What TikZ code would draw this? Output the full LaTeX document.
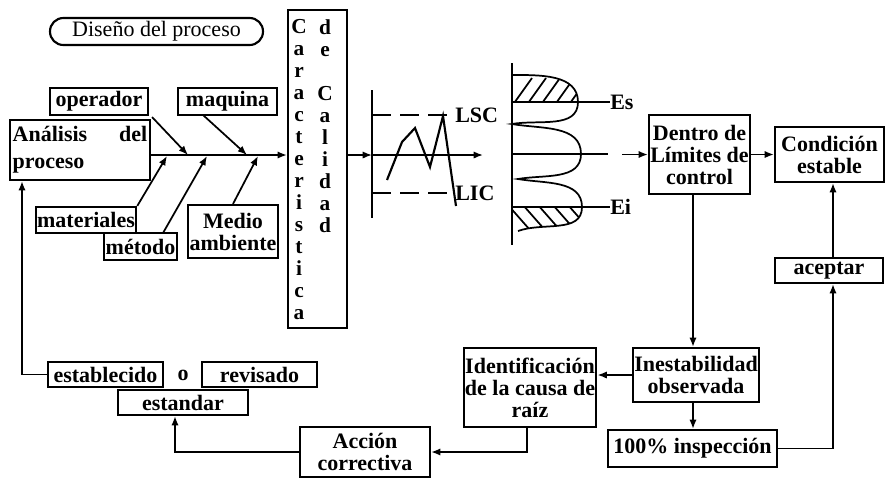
\documentclass[tikz,border=0pt]{standalone}
\usepackage{fontspec}
\setmainfont{Liberation Serif}
\usetikzlibrary{arrows.meta,calc}
\begin{document}
\begin{tikzpicture}[x=0.75pt,y=-0.75pt,
  box/.style={draw,line width=1.6pt,inner sep=1pt,align=center,font=\bfseries\fontsize{16.5}{16.5}\selectfont},
  sz/.style 2 args={minimum width=#1*0.75pt,minimum height=#2*0.75pt},
  ln/.style={line width=1.3pt},
  arr/.style={ln,-{Latex[length=7pt,width=5.5pt]}},
  lbl/.style={font=\bfseries\fontsize{16.5}{16.5}\selectfont,inner sep=0pt},
  col/.style={font=\bfseries\fontsize{16}{16.5}\selectfont,inner sep=0pt,align=center,anchor=north}]
\useasboundingbox (0,0) rectangle (886,480);

% ---------- nodes ----------
\node[draw,line width=1.6pt,rounded corners=10pt,sz={213}{27},inner sep=1pt,font=\fontsize{16.5}{16.5}\selectfont] (dis) at (156.5,31.5) {Diseño del proceso};
\node[box,sz={98}{27}] (oper) at (99,101.5) {operador};
\node[box,sz={99}{27}] (maq) at (227.5,101.5) {maquina};
\node[box,sz={140}{60},inner sep=1.5pt] (ana) at (80,150) {\parbox[c]{101pt}{\fontsize{16.5}{20}\selectfont Análisis\hfill del\\proceso}};
\node[box,sz={98}{26}] (mat) at (86,220) {materiales};
\node[box,sz={69}{27}] (met) at (140.5,246.5) {método};
\node[box,sz={90}{53}] (med) at (233,231.5) {Medio\\ambiente};
\node[box,sz={59}{318}] (car) at (317.5,169) {};
\node[col] (c1) at (299,19) {C\\a\\r\\a\\c\\t\\e\\r\\i\\s\\t\\i\\c\\a};
\node[col] (c2) at (325,19) {d\\e\\\mbox{}\\C\\a\\l\\i\\d\\a\\d};

\node[box,sz={99}{79}] (den) at (699.5,154.5) {Dentro de\\Límites de\\control};
\node[box,sz={109}{55}] (con) at (829.5,154.5) {Condición\\estable};
\node[box,sz={108}{25}] (ace) at (829,270.5) {aceptar};
\node[box,sz={122}{54}] (ine) at (696,375) {Inestabilidad\\observada};
\node[box,sz={169}{37}] (ins) at (692.5,448.5) {100\% inspección};
\node[box,sz={130}{79}] (ide) at (530,387.5) {Identificación\\de la causa de\\raíz};
\node[box,sz={130}{50}] (acc) at (365,452) {Acción\\correctiva};
\node[box,sz={130}{25}] (est) at (183,402.5) {estandar};
\node[box,sz={115}{25}] (esb) at (105.5,374.5) {establecido};
\node[box,sz={115}{25}] (rev) at (259.5,374.5) {revisado};
\node[lbl] (o) at (183,375) {o};

\node[lbl,anchor=west] (lsc) at (455,115) {LSC};
\node[lbl,anchor=west] (lic) at (455,193) {LIC};
\node[lbl,anchor=west] (es) at (610,102) {Es};
\node[lbl,anchor=west] (ei) at (610,207) {Ei};

% ---------- fishbone ----------
\coordinate (sp) at (0,155);
\draw[arr] (ana.east |- sp) -- (car.west |- sp);
\coordinate (f1) at (188,155);
\coordinate (f2) at (247,155);
\coordinate (f3) at (167,156);
\coordinate (f4) at (207,156);
\coordinate (f5) at (258,156);
\coordinate (t2) at (203,115);
\coordinate (t4) at (163,233);
\draw[arr] ($(oper.south east)+(3,1)$) -- (f1);
\draw[arr] (t2) -- (f2);
\draw[arr] (mat.north east) -- (f3);
\draw[arr] (t4) -- (f4);
\draw[arr] (med.north) -- (f5);

% ---------- control chart ----------
\coordinate (ch) at (372,155);
\coordinate (chend) at (483,155);
\draw[arr] (car.east |- ch) -- (ch);
\draw[arr] (ch) -- (chend);
\draw[line width=1.8pt] (372,90) -- (372,218);
\draw[ln,dash pattern=on 14pt off 7pt] (372,115) -- (lsc.west);
\draw[ln,dash pattern=on 14pt off 7pt] (372,193) -- (lic.west);
\draw[line width=1.6pt] (387,180) -- (402,142) -- (415,128) -- (430,167) -- (443,116) -- (456,206);

% ---------- distribution ----------
\draw[line width=1.6pt] (512,63) -- (512,245);
\draw[ln] (512,102) -- (es.west);
\draw[ln] (512,207) -- (ei.west);
\draw[ln] (512,154) -- (608,154);
\coordinate (dst) at (622,154.5);
\draw[arr] (dst) -- (den.west);
\draw[line width=1.3pt] (512,75) to[out=0,in=90] (578,102) to[out=-90,in=10] (512,124)
   to[out=-10,in=90] (581,154) to[out=-90,in=10] (518,179)
   to[out=-10,in=90] (582,207) to[out=-90,in=20] (518,231);
\begin{scope}
  \clip (512,75) to[out=0,in=90] (578,102) -- (512,102) -- cycle;
  \foreach \k in {0,1,2,3,4} \draw[line width=1.3pt] (512+14*\k,106) -- (532+14*\k,78);
\end{scope}
\begin{scope}
  \clip (512,207) -- (582,207) to[out=-90,in=20] (518,231) -- (512,231) -- cycle;
  \foreach \k in {0,1,2,3,4} \draw[line width=1.3pt] (508+15*\k,205) -- (530+15*\k,230);
\end{scope}

% ---------- right flow ----------
\coordinate (v1) at (693,0);
\coordinate (v2) at (833,0);
\draw[arr] (den.east |- con.west) -- (con.west);
\draw[arr] (den.south -| v1) -- (ine.north -| v1);
\draw[arr] (ine.south -| v1) -- (ins.north -| v1);
\draw[arr] (ins.east) -| (ace.south -| v2);
\draw[arr] (ace.north -| v2) -- (con.south -| v2);
\draw[arr] (ine.west) -- (ide.east |- ine.west);
\coordinate (v3) at (527,0);
\draw[arr] (ide.south -| v3) |- (acc.east);
\coordinate (v4) at (175,0);
\draw[arr] (acc.west) -| (est.south -| v4);
\coordinate (v5) at (22,0);
\draw[arr] (esb.west) -| (ana.south -| v5);
\end{tikzpicture}
\end{document}
